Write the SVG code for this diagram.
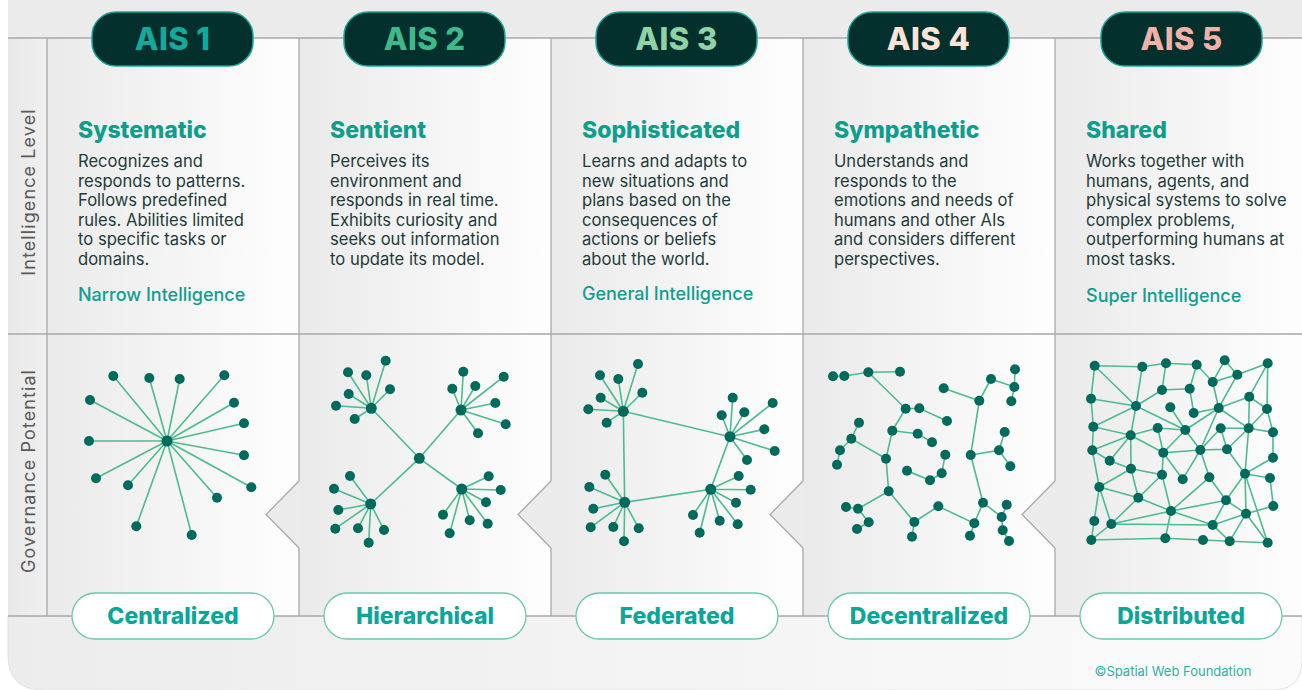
<svg xmlns="http://www.w3.org/2000/svg" width="1302" height="690" viewBox="0 0 1302 690">
<defs>
<linearGradient id="pg" x1="0" y1="0" x2="1" y2="0"><stop offset="0" stop-color="#eaeaea"/><stop offset="1" stop-color="#fefefe"/></linearGradient>
<linearGradient id="lg" x1="0" y1="0" x2="1" y2="0"><stop offset="0" stop-color="#e8e8e8"/><stop offset="1" stop-color="#f0f0f0"/></linearGradient>
<linearGradient id="bg" x1="0" y1="0" x2="1" y2="0"><stop offset="0" stop-color="#ececec"/><stop offset="1" stop-color="#fbfbfb"/></linearGradient>
<style>
.ln{stroke:#a9a9a9;stroke-width:1.3;fill:none}
.hp{fill:#03302d;stroke:#17a596;stroke-width:1.5}
.ht{font-family:Inter,'Liberation Sans',sans-serif;font-weight:800;font-size:31px;letter-spacing:0.4px;text-anchor:middle}
.h{font-family:Inter,'Liberation Sans',sans-serif;font-weight:800;font-size:23px;fill:#0f9d8c}
.b{font-family:Inter,'Liberation Sans',sans-serif;font-size:16.6px;fill:#1f3c3a}
.s{font-family:Inter,'Liberation Sans',sans-serif;font-weight:500;font-size:18px;fill:#109e8e}
.bp{fill:#ffffff;stroke:#6cc9a6;stroke-width:1.3}
.bt{font-family:Inter,'Liberation Sans',sans-serif;font-weight:800;font-size:23px;fill:#0aa697;text-anchor:middle}
.ax{font-family:Inter,'Liberation Sans',sans-serif;font-size:18px;letter-spacing:1.1px;fill:#5a5a5a;text-anchor:middle}
.e{stroke:#4dba8f;stroke-width:1.6;fill:none}
.n circle{fill:#006a5d}
.notch{fill:#ebebeb;stroke:#a9a9a9;stroke-width:1.3}
</style>
</defs>
<rect x="0" y="0" width="1302" height="690" fill="#ffffff"/>
<path d="M8,0 H1302 V616 H8 Z" fill="#ebebeb"/>
<path d="M8,616 H1302 V660 Q1302,690 1272,690 H43 Q8,690 8,655 Z" fill="url(#bg)" stroke="#e2e2e2" stroke-width="1"/>
<g id="axis">
<rect x="8" y="38" width="39" height="578" fill="url(#lg)"/>
<text class="ax" transform="translate(35,192) rotate(-90)">Intelligence Level</text>
<text class="ax" transform="translate(35,471) rotate(-90)">Governance Potential</text>
</g>
<g id="panels-bg">
<rect x="47" y="38" width="252" height="578" fill="url(#pg)"/>
<rect x="299" y="38" width="252" height="578" fill="url(#pg)"/>
<rect x="551" y="38" width="252" height="578" fill="url(#pg)"/>
<rect x="803" y="38" width="252" height="578" fill="url(#pg)"/>
<rect x="1055" y="38" width="252" height="578" fill="url(#pg)"/>
<path class="notch" d="M299,481 L266,514.5 L299,548"/>
<path class="notch" d="M551,481 L518,514.5 L551,548"/>
<path class="notch" d="M803,481 L770,514.5 L803,548"/>
<path class="notch" d="M1055,481 L1022,514.5 L1055,548"/>
<path class="ln" d="M8,38 H1302 M8,334 H1302 M8,616 H1302 M47,38 V616 M299,38 V481 M299,548 V616 M551,38 V481 M551,548 V616 M803,38 V481 M803,548 V616 M1055,38 V481 M1055,548 V616"/>
</g>
<g id="connectors">
<path class="e" d="M167,441 L113.3,376 M167,441 L149.3,378 M167,441 L179.7,379 M167,441 L224.3,375.3 M167,441 L90,400 M167,441 L234,402.7 M167,441 L244,423.3 M167,441 L89,441 M167,441 L244,455.3 M167,441 L96,478.3 M167,441 L128,485.3 M167,441 L251.3,487.3 M167,441 L217,497.7 M167,441 L136.3,526.3 M167,441 L191.7,535"/>
<path class="e" d="M419.3,458.3 L371.3,408.3 M419.3,458.3 L461,410 M419.3,458.3 L370.7,504 M419.3,458.3 L461.7,489
M371.3,408.3 L348,372.3 M371.3,408.3 L366.3,375.3 M371.3,408.3 L385.7,360.7 M371.3,408.3 L348.7,394 M371.3,408.3 L390,389.3 M371.3,408.3 L336,405.7 M371.3,408.3 L354.7,419
M461,410 L463.3,371.7 M461,410 L452.3,388.7 M461,410 L475.3,386 M461,410 L503.7,376.7 M461,410 L495.3,403 M461,410 L505.7,424.3 M461,410 L478,433.3
M370.7,504 L350,476 M370.7,504 L334,488.7 M370.7,504 L338.3,510 M370.7,504 L335.3,528.7 M370.7,504 L358,528.3 M370.7,504 L368.7,542.7 M370.7,504 L384,530
M461.7,489 L488.7,476.3 M461.7,489 L500.7,490 M461.7,489 L486,502.3 M461.7,489 L443,514.7 M461.7,489 L469.7,520.3 M461.7,489 L487.7,523.7 M461.7,489 L449.7,533.3"/>
<path class="e" d="M623.3,411.3 L730,436.7 L710.7,489.3 L624.7,502.3 Z
M623.3,411.3 L600,375.3 M623.3,411.3 L618.3,379 M623.3,411.3 L638,364 M623.3,411.3 L600.7,397.7 M623.3,411.3 L642.3,392.7 M623.3,411.3 L588.3,409.3 M623.3,411.3 L606.7,422.7
M730,436.7 L732.7,397.7 M730,436.7 L721.7,415.3 M730,436.7 L744.3,412.3 M730,436.7 L772.7,403 M730,436.7 L764.3,429.3 M730,436.7 L774.7,451 M730,436.7 L747,460
M624.7,502.3 L605.3,474.7 M624.7,502.3 L589.3,487 M624.7,502.3 L593.3,508.7 M624.7,502.3 L590.7,527.3 M624.7,502.3 L613.3,527 M624.7,502.3 L624,541.3 M624.7,502.3 L638.7,528.3
M710.7,489.3 L738.7,476 M710.7,489.3 L750.7,489.7 M710.7,489.3 L736,502.7 M710.7,489.3 L693,515 M710.7,489.3 L719.7,520.7 M710.7,489.3 L737.7,524.3 M710.7,489.3 L699.7,532.7"/>
<path class="e" d="M833,376.3 L844.3,376 L868.3,372.3 L900,371.7
M868.3,372.3 L905.7,408.7 L919.3,408.3 L947,421
M905.7,408.7 L892.3,430.7 L917.7,433.7 L932,442.3
M892.3,430.7 L886,458.7 L851.3,438.7 L859,422.7
M851.3,438.7 L840,450.3 L837,464.7
M886,458.7 L888.7,491.3 L858,508.7 L846,507
M858,508.7 L868.7,522.3 L857,529
M888.7,491.3 L914.3,522 L912,536.7
M914.3,522 L938.3,506.3 L974.3,523.3 L970,535.7
M974.3,523.3 L983,502.7 L970.7,455 L979.3,400.7 L943.7,388.3
M979.3,400.7 L991,379 L1014.3,387 L1015,369.3
M1014.3,387 L1011.3,401.3
M970.7,455 L999,450.3 L1004.7,432
M999,450.3 L1010.3,466.3
M983,502.7 L1001.7,517 L1006.7,504.7
M1001.7,517 L1002.7,530.3 L1009,541
M907,470.7 L930,480.3 L941.7,473.3 L945.3,454.7"/>
<path class="e" d="M1094.7,365.7 L1142.3,366.7 L1166,363.3 L1196.7,364.7 L1212.7,382 L1224.7,360.3 L1237.3,374.7 L1267.7,363.3
M1212.7,382 L1237.3,374.7 L1218.7,408 L1212.7,382
M1094.7,365.7 L1091,398.7 M1094.7,365.7 L1136,406 L1142.3,366.7
M1166,363.3 L1162,390 L1189.7,388.7 L1196.7,364.7 M1189.7,388.7 L1193.7,413 L1218.7,408
M1162,390 L1136,406
M1267.7,363.3 L1249.3,396.7 L1267,409 L1267.7,363.3 M1249.3,396.7 L1218.7,408
M1218.7,408 L1185.3,430 M1170.3,407.3 L1185.3,430 M1136,406 L1185.3,430
M1136,406 L1091,398.7 M1136,406 L1093.3,426.7 M1136,406 L1130.7,435.3
M1091,398.7 L1093.3,426.7 L1130.7,435.3 L1157.7,428 L1185.3,430
M1093.3,426.7 L1092.3,450.3 M1157.7,428 L1163.3,452.7
M1130.7,435.3 L1092.3,450.3 M1130.7,435.3 L1109.7,460.7 M1130.7,435.3 L1163.3,452.7 M1130.7,435.3 L1131,468.7
M1185.3,430 L1163.3,452.7 M1185.3,430 L1200.3,450 M1218.7,408 L1200.3,450
M1218.7,408 L1248.7,428.3 M1249.3,396.7 L1248.7,428.3 M1267,409 L1248.7,428.3
M1220.7,428.3 L1248.7,428.3 L1273,432.3 L1267,409 M1220.7,428.3 L1227,449.3 M1200.3,450 L1220.7,428.3
M1273,432.3 L1273,457.7 M1248.7,428.3 L1245,473.7 M1248.7,428.3 L1227,449.3
M1163.3,452.7 L1200.3,450 L1227,449.3
M1092.3,450.3 L1109.7,460.7 L1131,468.7 M1092.3,450.3 L1099.3,487
M1163.3,452.7 L1162,474.7 M1163.3,452.7 L1182.7,479.3 L1200.3,450 L1209.3,477.3
M1227,449.3 L1245,473.7 L1273,457.7 M1245,473.7 L1270,478
M1131,468.7 L1162,474.7 M1131,468.7 L1099.3,487 M1131,468.7 L1138.3,497.7
M1209.3,477.3 L1226,500.3 M1245,473.7 L1226,500.3 M1245,473.7 L1246,513.7 M1245,473.7 L1267.7,542.7
M1270,478 L1273.3,506 L1246,513.7
M1099.3,487 L1138.3,497.7 M1099.3,487 L1111.3,524 M1099.3,487 L1091.3,540
M1162,474.7 L1138.3,497.7 L1171,511 L1162,474.7 M1138.3,497.7 L1111.3,524
M1209.3,477.3 L1171,511 L1226,500.3 L1246,513.7 M1226,500.3 L1212.7,525
M1171,511 L1111.3,524 L1212.7,525 L1171,511 L1165.3,538.3
M1111.3,524 L1091.3,540 L1165.3,538.3 L1203,540 L1229.7,541.3 L1267.7,542.7 L1246,513.7 L1229.7,541.3 L1212.7,525 L1246,513.7
M1094.3,521 L1091.3,540"/>
</g>
<g id="ais1">
<rect class="hp" x="92" y="12" width="161" height="54" rx="24"/>
<text class="ht" x="172.5" y="50" fill="#14a99d">AIS 1</text>
<text class="h" x="78" y="138">Systematic</text>
<text class="b"><tspan x="78" y="167">Recognizes and</tspan><tspan x="78" y="186.5">responds to patterns.</tspan><tspan x="78" y="206">Follows predefined</tspan><tspan x="78" y="225.5">rules. Abilities limited</tspan><tspan x="78" y="245">to specific tasks or</tspan><tspan x="78" y="264.5">domains.</tspan></text>
<text class="s" x="78" y="301">Narrow Intelligence</text>
<g class="n"><circle cx="167" cy="441" r="5.5"/><circle cx="113.3" cy="376" r="5"/><circle cx="149.3" cy="378" r="5"/><circle cx="179.7" cy="379" r="5"/><circle cx="224.3" cy="375.3" r="5"/><circle cx="90" cy="400" r="5"/><circle cx="234" cy="402.7" r="5"/><circle cx="244" cy="423.3" r="5"/><circle cx="89" cy="441" r="5"/><circle cx="244" cy="455.3" r="5"/><circle cx="96" cy="478.3" r="5"/><circle cx="128" cy="485.3" r="5"/><circle cx="251.3" cy="487.3" r="5"/><circle cx="217" cy="497.7" r="5"/><circle cx="136.3" cy="526.3" r="5"/><circle cx="191.7" cy="535" r="5"/></g>
<rect class="bp" x="72" y="593" width="202" height="46" rx="23"/>
<text class="bt" x="173" y="623.5">Centralized</text>
</g>
<g id="ais2">
<rect class="hp" x="344" y="12" width="161" height="54" rx="24"/>
<text class="ht" x="424.5" y="50" fill="#3fb98b">AIS 2</text>
<text class="h" x="330" y="138">Sentient</text>
<text class="b"><tspan x="330" y="167">Perceives its</tspan><tspan x="330" y="186.5">environment and</tspan><tspan x="330" y="206">responds in real time.</tspan><tspan x="330" y="225.5">Exhibits curiosity and</tspan><tspan x="330" y="245">seeks out information</tspan><tspan x="330" y="264.5">to update its model.</tspan></text>
<g class="n"><circle cx="419.3" cy="458.3" r="5.5"/><circle cx="371.3" cy="408.3" r="5.5"/><circle cx="461" cy="410" r="5.5"/><circle cx="370.7" cy="504" r="5.5"/><circle cx="461.7" cy="489" r="5.5"/>
<circle cx="348" cy="372.3" r="5"/><circle cx="366.3" cy="375.3" r="5"/><circle cx="385.7" cy="360.7" r="5"/><circle cx="348.7" cy="394" r="5"/><circle cx="390" cy="389.3" r="5"/><circle cx="336" cy="405.7" r="5"/><circle cx="354.7" cy="419" r="5"/>
<circle cx="463.3" cy="371.7" r="5"/><circle cx="452.3" cy="388.7" r="5"/><circle cx="475.3" cy="386" r="5"/><circle cx="503.7" cy="376.7" r="5"/><circle cx="495.3" cy="403" r="5"/><circle cx="505.7" cy="424.3" r="5"/><circle cx="478" cy="433.3" r="5"/>
<circle cx="350" cy="476" r="5"/><circle cx="334" cy="488.7" r="5"/><circle cx="338.3" cy="510" r="5"/><circle cx="335.3" cy="528.7" r="5"/><circle cx="358" cy="528.3" r="5"/><circle cx="368.7" cy="542.7" r="5"/><circle cx="384" cy="530" r="5"/>
<circle cx="488.7" cy="476.3" r="5"/><circle cx="500.7" cy="490" r="5"/><circle cx="486" cy="502.3" r="5"/><circle cx="443" cy="514.7" r="5"/><circle cx="469.7" cy="520.3" r="5"/><circle cx="487.7" cy="523.7" r="5"/><circle cx="449.7" cy="533.3" r="5"/></g>
<rect class="bp" x="324" y="593" width="202" height="46" rx="23"/>
<text class="bt" x="425" y="623.5">Hierarchical</text>
</g>
<g id="ais3">
<rect class="hp" x="596" y="12" width="161" height="54" rx="24"/>
<text class="ht" x="676.5" y="50" fill="#8ed3a6">AIS 3</text>
<text class="h" x="582" y="138">Sophisticated</text>
<text class="b"><tspan x="582" y="167">Learns and adapts to</tspan><tspan x="582" y="186.5">new situations and</tspan><tspan x="582" y="206">plans based on the</tspan><tspan x="582" y="225.5">consequences of</tspan><tspan x="582" y="245">actions or beliefs</tspan><tspan x="582" y="264.5">about the world.</tspan></text>
<text class="s" x="582" y="300">General Intelligence</text>
<g class="n"><circle cx="623.3" cy="411.3" r="5.5"/><circle cx="730" cy="436.7" r="5.5"/><circle cx="624.7" cy="502.3" r="5.5"/><circle cx="710.7" cy="489.3" r="5.5"/>
<circle cx="600" cy="375.3" r="5"/><circle cx="618.3" cy="379" r="5"/><circle cx="638" cy="364" r="5"/><circle cx="600.7" cy="397.7" r="5"/><circle cx="642.3" cy="392.7" r="5"/><circle cx="588.3" cy="409.3" r="5"/><circle cx="606.7" cy="422.7" r="5"/>
<circle cx="732.7" cy="397.7" r="5"/><circle cx="721.7" cy="415.3" r="5"/><circle cx="744.3" cy="412.3" r="5"/><circle cx="772.7" cy="403" r="5"/><circle cx="764.3" cy="429.3" r="5"/><circle cx="774.7" cy="451" r="5"/><circle cx="747" cy="460" r="5"/>
<circle cx="605.3" cy="474.7" r="5"/><circle cx="589.3" cy="487" r="5"/><circle cx="593.3" cy="508.7" r="5"/><circle cx="590.7" cy="527.3" r="5"/><circle cx="613.3" cy="527" r="5"/><circle cx="624" cy="541.3" r="5"/><circle cx="638.7" cy="528.3" r="5"/>
<circle cx="738.7" cy="476" r="5"/><circle cx="750.7" cy="489.7" r="5"/><circle cx="736" cy="502.7" r="5"/><circle cx="693" cy="515" r="5"/><circle cx="719.7" cy="520.7" r="5"/><circle cx="737.7" cy="524.3" r="5"/><circle cx="699.7" cy="532.7" r="5"/></g>
<rect class="bp" x="576" y="593" width="202" height="46" rx="23"/>
<text class="bt" x="677" y="623.5">Federated</text>
</g>
<g id="ais4">
<rect class="hp" x="848" y="12" width="161" height="54" rx="24"/>
<text class="ht" x="928.5" y="50" fill="#fbe4d7">AIS 4</text>
<text class="h" x="834" y="138">Sympathetic</text>
<text class="b"><tspan x="834" y="167">Understands and</tspan><tspan x="834" y="186.5">responds to the</tspan><tspan x="834" y="206">emotions and needs of</tspan><tspan x="834" y="225.5">humans and other AIs</tspan><tspan x="834" y="245">and considers different</tspan><tspan x="834" y="264.5">perspectives.</tspan></text>
<g class="n"><circle cx="833" cy="376.3" r="5"/><circle cx="844.3" cy="376" r="5"/><circle cx="868.3" cy="372.3" r="5"/><circle cx="900" cy="371.7" r="5"/><circle cx="905.7" cy="408.7" r="5"/><circle cx="919.3" cy="408.3" r="5"/><circle cx="947" cy="421" r="5"/><circle cx="892.3" cy="430.7" r="5"/><circle cx="917.7" cy="433.7" r="5"/><circle cx="932" cy="442.3" r="5"/><circle cx="859" cy="422.7" r="5"/><circle cx="851.3" cy="438.7" r="5"/><circle cx="840" cy="450.3" r="5"/><circle cx="837" cy="464.7" r="5"/><circle cx="886" cy="458.7" r="5"/><circle cx="888.7" cy="491.3" r="5"/><circle cx="858" cy="508.7" r="5"/><circle cx="846" cy="507" r="5"/><circle cx="868.7" cy="522.3" r="5"/><circle cx="857" cy="529" r="5"/><circle cx="914.3" cy="522" r="5"/><circle cx="912" cy="536.7" r="5"/><circle cx="938.3" cy="506.3" r="5"/><circle cx="974.3" cy="523.3" r="5"/><circle cx="970" cy="535.7" r="5"/><circle cx="983" cy="502.7" r="5"/><circle cx="970.7" cy="455" r="5"/><circle cx="979.3" cy="400.7" r="5"/><circle cx="943.7" cy="388.3" r="5"/><circle cx="991" cy="379" r="5"/><circle cx="1014.3" cy="387" r="5"/><circle cx="1015" cy="369.3" r="5"/><circle cx="1011.3" cy="401.3" r="5"/><circle cx="999" cy="450.3" r="5"/><circle cx="1004.7" cy="432" r="5"/><circle cx="1010.3" cy="466.3" r="5"/><circle cx="1001.7" cy="517" r="5"/><circle cx="1006.7" cy="504.7" r="5"/><circle cx="1002.7" cy="530.3" r="5"/><circle cx="1009" cy="541" r="5"/><circle cx="907" cy="470.7" r="5"/><circle cx="930" cy="480.3" r="5"/><circle cx="941.7" cy="473.3" r="5"/><circle cx="945.3" cy="454.7" r="5"/></g>
<rect class="bp" x="828" y="593" width="202" height="46" rx="23"/>
<text class="bt" x="929" y="623.5">Decentralized</text>
</g>
<g id="ais5">
<rect class="hp" x="1101" y="12" width="161" height="54" rx="24"/>
<text class="ht" x="1181.5" y="50" fill="#f1b1a8">AIS 5</text>
<text class="h" x="1086" y="138">Shared</text>
<text class="b"><tspan x="1086" y="167">Works together with</tspan><tspan x="1086" y="186.5">humans, agents, and</tspan><tspan x="1086" y="206">physical systems to solve</tspan><tspan x="1086" y="225.5">complex problems,</tspan><tspan x="1086" y="245">outperforming humans at</tspan><tspan x="1086" y="264.5">most tasks.</tspan></text>
<text class="s" x="1086" y="302">Super Intelligence</text>
<g class="n"><circle cx="1094.7" cy="365.7" r="5"/><circle cx="1142.3" cy="366.7" r="5"/><circle cx="1166" cy="363.3" r="5"/><circle cx="1196.7" cy="364.7" r="5"/><circle cx="1224.7" cy="360.3" r="5"/><circle cx="1237.3" cy="374.7" r="5"/><circle cx="1267.7" cy="363.3" r="5"/><circle cx="1212.7" cy="382" r="5"/><circle cx="1162" cy="390" r="5"/><circle cx="1189.7" cy="388.7" r="5"/><circle cx="1091" cy="398.7" r="5"/><circle cx="1136" cy="406" r="5"/><circle cx="1170.3" cy="407.3" r="5"/><circle cx="1193.7" cy="413" r="5"/><circle cx="1218.7" cy="408" r="5"/><circle cx="1249.3" cy="396.7" r="5"/><circle cx="1267" cy="409" r="5"/><circle cx="1093.3" cy="426.7" r="5"/><circle cx="1130.7" cy="435.3" r="5"/><circle cx="1157.7" cy="428" r="5"/><circle cx="1185.3" cy="430" r="5"/><circle cx="1220.7" cy="428.3" r="5"/><circle cx="1248.7" cy="428.3" r="5"/><circle cx="1273" cy="432.3" r="5"/><circle cx="1092.3" cy="450.3" r="5"/><circle cx="1109.7" cy="460.7" r="5"/><circle cx="1163.3" cy="452.7" r="5"/><circle cx="1200.3" cy="450" r="5"/><circle cx="1227" cy="449.3" r="5"/><circle cx="1273" cy="457.7" r="5"/><circle cx="1131" cy="468.7" r="5"/><circle cx="1162" cy="474.7" r="5"/><circle cx="1182.7" cy="479.3" r="5"/><circle cx="1209.3" cy="477.3" r="5"/><circle cx="1245" cy="473.7" r="5"/><circle cx="1270" cy="478" r="5"/><circle cx="1099.3" cy="487" r="5"/><circle cx="1138.3" cy="497.7" r="5"/><circle cx="1226" cy="500.3" r="5"/><circle cx="1273.3" cy="506" r="5"/><circle cx="1171" cy="511" r="5"/><circle cx="1246" cy="513.7" r="5"/><circle cx="1094.3" cy="521" r="5"/><circle cx="1111.3" cy="524" r="5"/><circle cx="1212.7" cy="525" r="5"/><circle cx="1091.3" cy="540" r="5"/><circle cx="1165.3" cy="538.3" r="5"/><circle cx="1203" cy="540" r="5"/><circle cx="1229.7" cy="541.3" r="5"/><circle cx="1267.7" cy="542.7" r="5"/></g>
<rect class="bp" x="1080" y="593" width="202" height="46" rx="23"/>
<text class="bt" x="1181" y="623.5">Distributed</text>
</g>
<text x="1173" y="676" font-family="Inter,'Liberation Sans',sans-serif" font-size="13" fill="#2db2a2" text-anchor="middle">©Spatial Web Foundation</text>
</svg>
